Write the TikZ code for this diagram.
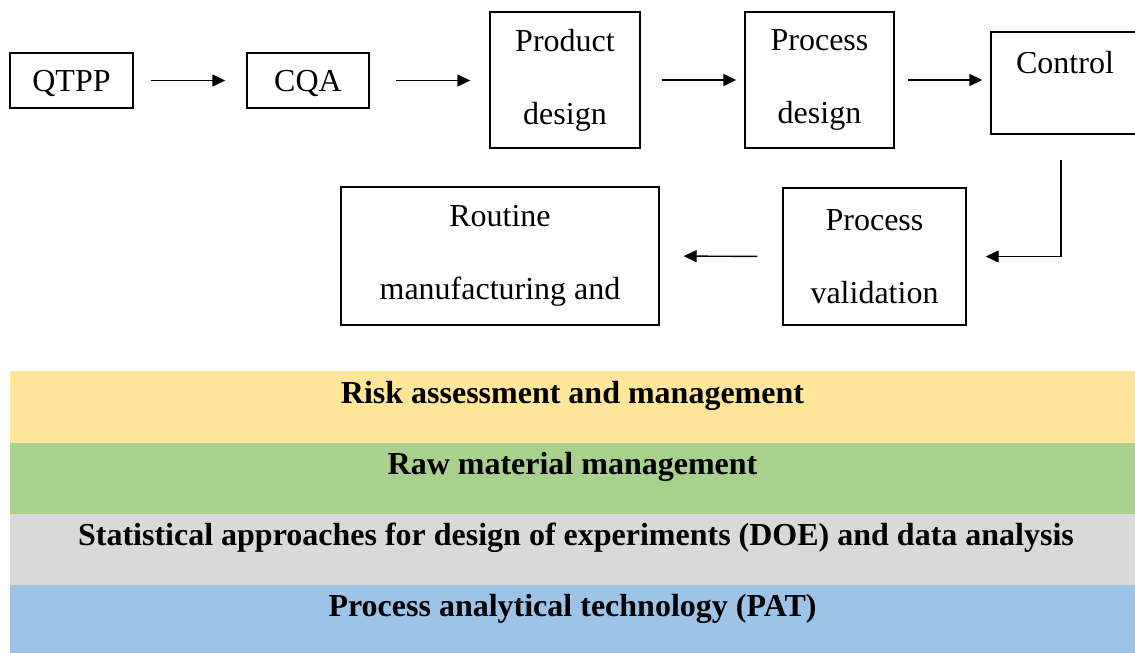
\documentclass[tikz,border=0pt]{standalone}
\usepackage{fontspec}
\setmainfont{Liberation Serif}
\usetikzlibrary{arrows.meta}

\definecolor{riskfill}{HTML}{FFE699}
\definecolor{rawfill}{HTML}{A9D18E}
\definecolor{statfill}{HTML}{D9D9D9}
\definecolor{patfill}{HTML}{9DC3E6}

\begin{document}
\begin{tikzpicture}[x=1pt, y=-1pt,
  box/.style={draw=black, line width=1.4pt, inner sep=0pt, align=center,
    font=\fontsize{32}{38}\selectfont},
  onebox/.style={box, text height=22pt, text depth=0pt},
  boxtext/.style={inner sep=0pt, anchor=base, font=\fontsize{32}{38}\selectfont},
  flow/.style={line width=1.4pt, -{Triangle[length=13pt,width=12pt]}},
  band/.style={draw=none, inner sep=0pt, minimum width=1125pt},
  bandtext/.style={inner sep=0pt, anchor=base, font=\fontsize{32}{38}\selectfont\bfseries}
]
\useasboundingbox (0,0) rectangle (1135,653);

% first row of the workflow
\node[onebox, minimum width=123pt, minimum height=55pt] (qtpp) at (71.5,80.5) {QTPP};
\node[onebox, minimum width=122pt, minimum height=55pt] (cqa) at (308,80.5) {CQA};
\node[box, minimum width=150pt, minimum height=136pt] (prod) at (565,80) {Product\\[35pt]design};
\node[box, minimum width=149pt, minimum height=136pt] (procd) at (819.5,80) {Process\\[35pt]design};
\node[box, minimum width=147pt, minimum height=102pt] (control) at (1064.5,83) {};
\node[boxtext] (controlt) at ([yshift=-42pt]control.north -| 1065,0) {Control};

% second row of the workflow
\node[box, minimum width=183pt, minimum height=137pt] (pval) at (874.5,256.5) {Process\\[35pt]validation};
\node[box, minimum width=318pt, minimum height=138pt] (routine) at (500,256) {Routine\\[35pt]manufacturing and};

% connectors
\draw[flow, shorten <=17pt, shorten >=21pt] (qtpp.east) -- (qtpp.east -| cqa.west);
\draw[flow, shorten <=26pt, shorten >=19pt] (cqa.east) -- (cqa.east -| prod.west);
\draw[flow, shorten <=21pt, shorten >=8pt] (prod.east) -- (prod.east -| procd.west);
\draw[flow, shorten <=13pt, shorten >=8pt] (procd.east) -- (procd.east -| control.west);
\coordinate (drop) at (1061,160);
\draw[flow, shorten >=19pt] (drop) |- (pval.east);
\draw[flow, shorten <=25pt, shorten >=24pt] (pval.west) -- (routine.east);

% supporting elements
\node[band, fill=riskfill, minimum height=72pt] (risk) at (572.5,407) {};
\node[band, fill=rawfill, minimum height=71pt] (raw) at (572.5,478.5) {};
\node[band, fill=statfill, minimum height=71pt] (stat) at (572.5,549.5) {};
\node[band, fill=patfill, minimum height=69pt] (pat) at (572.5,619.5) {};

\node[bandtext] (riskt) at ([yshift=-33pt]risk.north) {Risk assessment and management};
\node[bandtext] (rawt) at ([yshift=-32pt]raw.north) {Raw material management};
\node[bandtext] (statt) at ([yshift=-32pt]stat.north -| 576,0) {Statistical approaches for design of experiments (DOE) and data analysis};
\node[bandtext] (patt) at ([yshift=-32pt]pat.north) {Process analytical technology (PAT)};
\end{tikzpicture}
\end{document}
